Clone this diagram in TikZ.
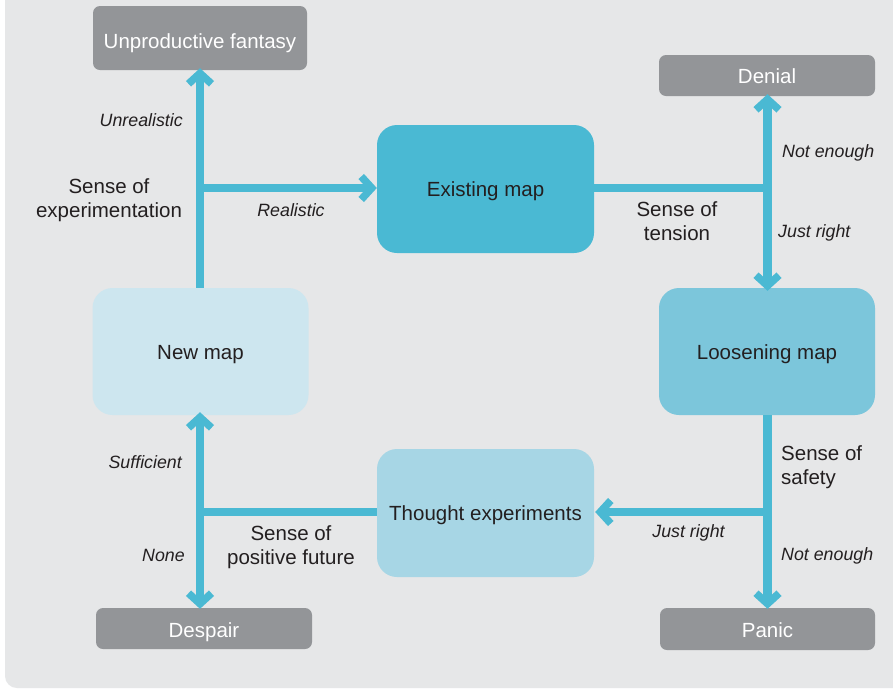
\documentclass[tikz,border=0pt]{standalone}
\usepackage{fontspec}
\setmainfont{Liberation Sans}
\usetikzlibrary{arrows.meta}
\definecolor{bg}{HTML}{E6E7E8}
\definecolor{graybox}{HTML}{939598}
\definecolor{arrowblue}{HTML}{4AB9D3}
\definecolor{existfill}{HTML}{4AB9D3}
\definecolor{loosefill}{HTML}{7CC6DB}
\definecolor{newfill}{HTML}{CDE6EF}
\definecolor{thoughtfill}{HTML}{A7D6E5}
\definecolor{txt}{HTML}{231F20}
\begin{document}
\begin{tikzpicture}[x=1pt,y=-1pt,
  mapbox/.style={rounded corners=20pt, minimum width=217pt, minimum height=128pt, inner sep=0pt, text=txt, text height=15.5pt, text depth=0pt, font=\fontsize{20.5}{24}\selectfont},
  outcome/.style={rounded corners=7pt, fill=graybox, minimum width=215pt, minimum height=42pt, inner sep=0pt, text=white, text height=16.5pt, text depth=0pt, font=\fontsize{20.5}{24}\selectfont},
  conn/.style={draw=arrowblue, line width=8.5pt},
  chev/.tip={Straight Barb[length=10.5pt,width=23pt,line width=7.5pt]},
  tipend/.style={-chev},
  tipboth/.style={chev-chev},
  lbl/.style={text=txt, font=\fontsize{20.5}{24}\selectfont, inner sep=0pt},
  cond/.style={text=txt, font=\fontsize{17.8}{21}\selectfont\itshape, inner sep=0pt, text height=12.7pt, text depth=0pt}]
\useasboundingbox (0,0) rectangle (893,689);
\fill[white] (0,0) rectangle (893,689);
\fill[bg, rounded corners=12pt] (5,-20) rectangle (920,688);

% outcome boxes
\node[outcome, minimum height=64pt, minimum width=214pt, text height=20pt] (fantasy) at (200,38) {Unproductive fantasy};
\node[outcome, minimum height=41pt, minimum width=216pt, text height=15pt] (denial) at (767,75.5) {Denial};
\node[outcome, minimum height=41pt, minimum width=216pt, text height=18pt] (despair) at (204,628.5) {Despair};
\node[outcome, minimum height=42pt, minimum width=215pt] (panic) at (767.5,629) {Panic};

% map boxes
\node[mapbox, fill=existfill] (existing) at (485.5,189) {Existing map};
\node[mapbox, fill=loosefill, minimum width=216pt, minimum height=127pt] (loosening) at (767,351.5) {Loosening map};
\node[mapbox, fill=newfill, minimum width=216pt, minimum height=127pt] (newmap) at (200.5,351.5) {New map};
\node[mapbox, fill=thoughtfill] (thought) at (485.5,513) {Thought experiments};

% junctions
\coordinate (jtl) at (200,188);
\coordinate (jtr) at (767.5,188);
\coordinate (jbr) at (767.5,512);
\coordinate (jbl) at (200,512);

% connectors
\draw[conn, tipend] (jtl |- newmap.north) -- ([yshift=2pt]jtl |- fantasy.south);
\draw[conn, tipend] (jtl) -- (jtl -| existing.west);
\draw[conn] (jtr -| existing.east) -- (jtr);
\draw[conn, tipboth] ([yshift=2pt]jtr |- denial.south) -- ([yshift=-3pt]jtr |- loosening.north);
\draw[conn, tipend] (jbr |- loosening.south) -- ([yshift=-1pt]jbr |- panic.north);
\draw[conn, tipend] (jbr) -- ([xshift=1pt]jbr -| thought.east);
\draw[conn] (jbl -| thought.west) -- (jbl);
\draw[conn, tipboth] ([yshift=3pt]jbl |- newmap.south) -- ([yshift=-1pt]jbl |- despair.north);

% labels
\node[cond, anchor=east] (unreal) at (183,120) {Unrealistic};
\node[lbl, align=center] (sexp) at (109,200) {Sense of\\experimentation};
\node[cond] (real) at (291,210) {Realistic};
\node[cond, anchor=west] (ne1) at (782,151) {Not enough};
\node[lbl, align=center] (stens) at (677,221) {Sense of\\tension};
\node[cond, anchor=west] (jr1) at (778,231) {Just right};
\node[lbl, align=left, anchor=west] (ssafe) at (781,467) {Sense of\\safety};
\node[cond] (jr2) at (688.5,531) {Just right};
\node[cond, anchor=west] (ne2) at (781,554) {Not enough};
\node[cond, anchor=east] (suff) at (182,462) {Sufficient};
\node[cond, anchor=east] (none) at (185,555) {None};
\node[lbl, align=center] (spos) at (291,547) {Sense of\\positive future};
\end{tikzpicture}
\end{document}
